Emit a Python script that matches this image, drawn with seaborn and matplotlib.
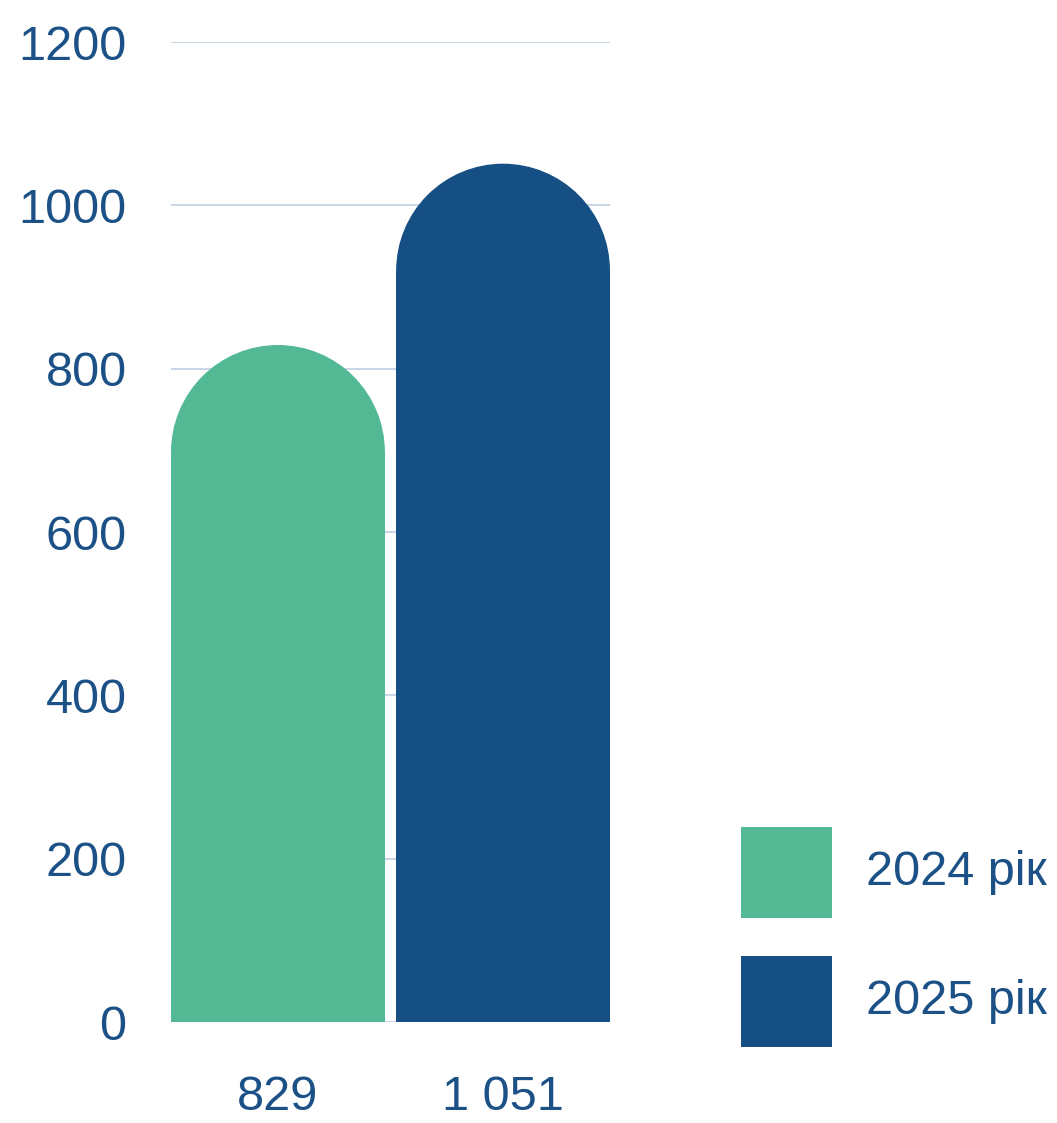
import matplotlib
matplotlib.use("Agg")
import matplotlib.pyplot as plt
from matplotlib.patches import Ellipse, Rectangle
import seaborn as sns

# chart data
years = ["2024 рік", "2025 рік"]
values = [829, 1051]
value_labels = ["829", "1 051"]
colors = ["#52B994", "#154F84"]
y_ticks = [0, 200, 400, 600, 800, 1000, 1200]

text_color = "#1B5186"
grid_color = "#C9D6E6"
fs = 35

sns.set_theme(style="white")
plt.rcParams['font.family'] = ['Liberation Sans', 'DejaVu Sans']

fig = plt.figure(figsize=(10.57, 11.23), dpi=100)
ax = fig.add_axes([0.1618, 0.0899, 0.4153, 0.8727])

sns.barplot(x=value_labels, y=values, hue=value_labels, palette=colors,
            saturation=1, width=0.95, legend=False, ax=ax, zorder=2)

ax.set_xlim(-0.475, 1.475)
ax.set_ylim(0, 1200)
ax.set_yticks(y_ticks)
ax.set_yticklabels([str(t) for t in y_ticks])
ax.yaxis.grid(True, color=grid_color, linewidth=1.5, zorder=0)
ax.set_axisbelow(True)
for s in ax.spines.values():
    s.set_visible(False)
ax.tick_params(axis="y", length=0, pad=32, labelsize=fs, labelcolor=text_color)
ax.tick_params(axis="x", length=0, pad=38, labelsize=fs, labelcolor=text_color)
ax.set_xlabel("")
ax.set_ylabel("")

# rounded (semicircle) tops: convert half bar width in px to y data units
fig_w, fig_h = fig.get_size_inches() * fig.dpi
pos = ax.get_position()
px_per_x = pos.width * fig_w / (1.475 - -0.475)
px_per_y = pos.height * fig_h / 1200

for bar in list(ax.patches):
    x = bar.get_x()
    w = bar.get_width()
    h = bar.get_height()
    col = bar.get_facecolor()
    cap = (w * px_per_x / 2) / px_per_y
    bar.set_height(h - cap)
    bar.set_edgecolor("none")
    ax.add_patch(Ellipse((x + w / 2, h - cap), w, 2 * cap,
                         facecolor=col, edgecolor="none", zorder=2))

# legend on the right
sq_w = 91 / fig_w
sq_h = 91 / fig_h
legend_tops = [827, 956]
for name, col, top in zip(years, colors, legend_tops):
    y0 = 1 - (top + 91) / fig_h
    fig.add_artist(Rectangle((741 / fig_w, y0), sq_w, sq_h,
                             transform=fig.transFigure, facecolor=col,
                             edgecolor="none"))
    fig.text(866 / fig_w, y0 + sq_h / 2, name, fontsize=fs,
             color=text_color, va="center", ha="left")

fig.savefig("out.png", dpi=100)
